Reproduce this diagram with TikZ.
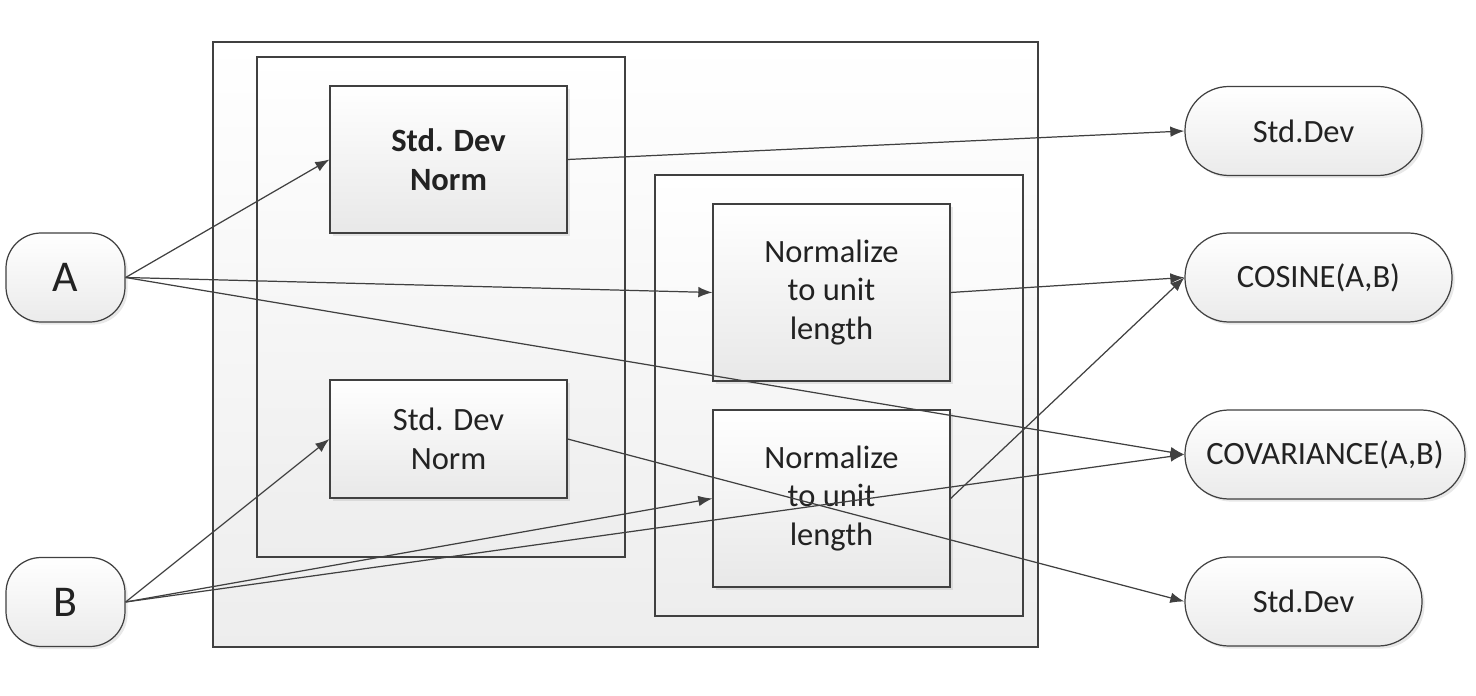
\documentclass[tikz,border=0pt]{standalone}
\usepackage{fontspec}
\setmainfont{Carlito}
\usetikzlibrary{arrows.meta,shadows}

\definecolor{edge}{HTML}{404040}
\definecolor{txt}{HTML}{222222}

\tikzset{
    >={Latex[length=8pt,width=6pt]},
    group/.style={draw=edge, line width=0.7pt, top color=white, bottom color=black!7, inner sep=0pt},
    block/.style={draw=edge, line width=0.7pt, top color=white, bottom color=black!9,
        drop shadow={opacity=0.18, shadow xshift=1.5pt, shadow yshift=-1.5pt},
        minimum width=4.74cm, align=center, text=txt, inner sep=0pt,
        font=\fontsize{18.5}{22}\selectfont},
    input/.style={draw=edge, line width=0.7pt, rounded corners=20pt, top color=white, bottom color=black!8,
        drop shadow={opacity=0.18, shadow xshift=1.5pt, shadow yshift=-1.5pt},
        minimum width=2.38cm, minimum height=1.78cm, text=txt, inner sep=0pt,
        font=\fontsize{25}{28}\selectfont},
    output/.style={draw=edge, line width=0.7pt, rounded corners=25pt, top color=white, bottom color=black!8,
        drop shadow={opacity=0.18, shadow xshift=1.5pt, shadow yshift=-1.5pt},
        minimum height=1.78cm, text=txt, inner sep=0pt,
        font=\fontsize{18.5}{22}\selectfont},
    link/.style={->, draw=edge, line width=0.7pt}
}

\begin{document}
\begin{tikzpicture}
    \useasboundingbox (0,0) rectangle (29.52,-13.92);

    % containers
    \node[group, minimum width=16.5cm, minimum height=12.1cm] (outer) at (12.51,-6.89) {};
    \node[group, minimum width=7.36cm, minimum height=10cm] (leftgrp) at (8.82,-6.14) {};
    \node[group, minimum width=7.36cm, minimum height=8.82cm] (rightgrp) at (16.78,-7.91) {};

    % inner blocks
    \node[block, minimum height=2.94cm, font=\fontsize{18.5}{22}\selectfont\bfseries] (sdnormA) at (8.97,-3.19) {Std. Dev\\Norm};
    \node[block, minimum height=2.36cm] (sdnormB) at (8.97,-8.78) {Std. Dev\\Norm};
    \node[block, minimum height=3.54cm] (unitA) at (16.63,-5.85) {Normalize\\to unit\\length};
    \node[block, minimum height=3.54cm] (unitB) at (16.63,-9.97) {Normalize\\to unit\\length};

    % inputs
    \node[input] (A) at (1.31,-5.55) {A};
    \node[input] (B) at (1.31,-12.04) {B};

    % outputs
    \node[output, minimum width=4.74cm] (sdA) at (26.07,-2.62) {Std.Dev};
    \node[output, minimum width=5.34cm] (cosine) at (26.37,-5.55) {COSINE(A,B)};
    \node[output, minimum width=5.6cm] (covar) at (26.5,-9.09) {COVARIANCE(A,B)};
    \node[output, minimum width=4.74cm] (sdB) at (26.07,-12.03) {Std.Dev};

    % connections
    \draw[link] (A.east) -- (sdnormA.west);
    \draw[link] (A.east) -- (unitA.west);
    \draw[link] (A.east) -- (covar.west);
    \draw[link] (B.east) -- (sdnormB.west);
    \draw[link] (B.east) -- (unitB.west);
    \draw[link] (B.east) -- (covar.west);

    \draw[link] (sdnormA.east) -- (sdA.west);
    \draw[link] (unitA.east) -- (cosine.west);
    \draw[link] (unitB.east) -- (cosine.west);
    \draw[link] (sdnormB.east) -- (sdB.west);
\end{tikzpicture}
\end{document}
